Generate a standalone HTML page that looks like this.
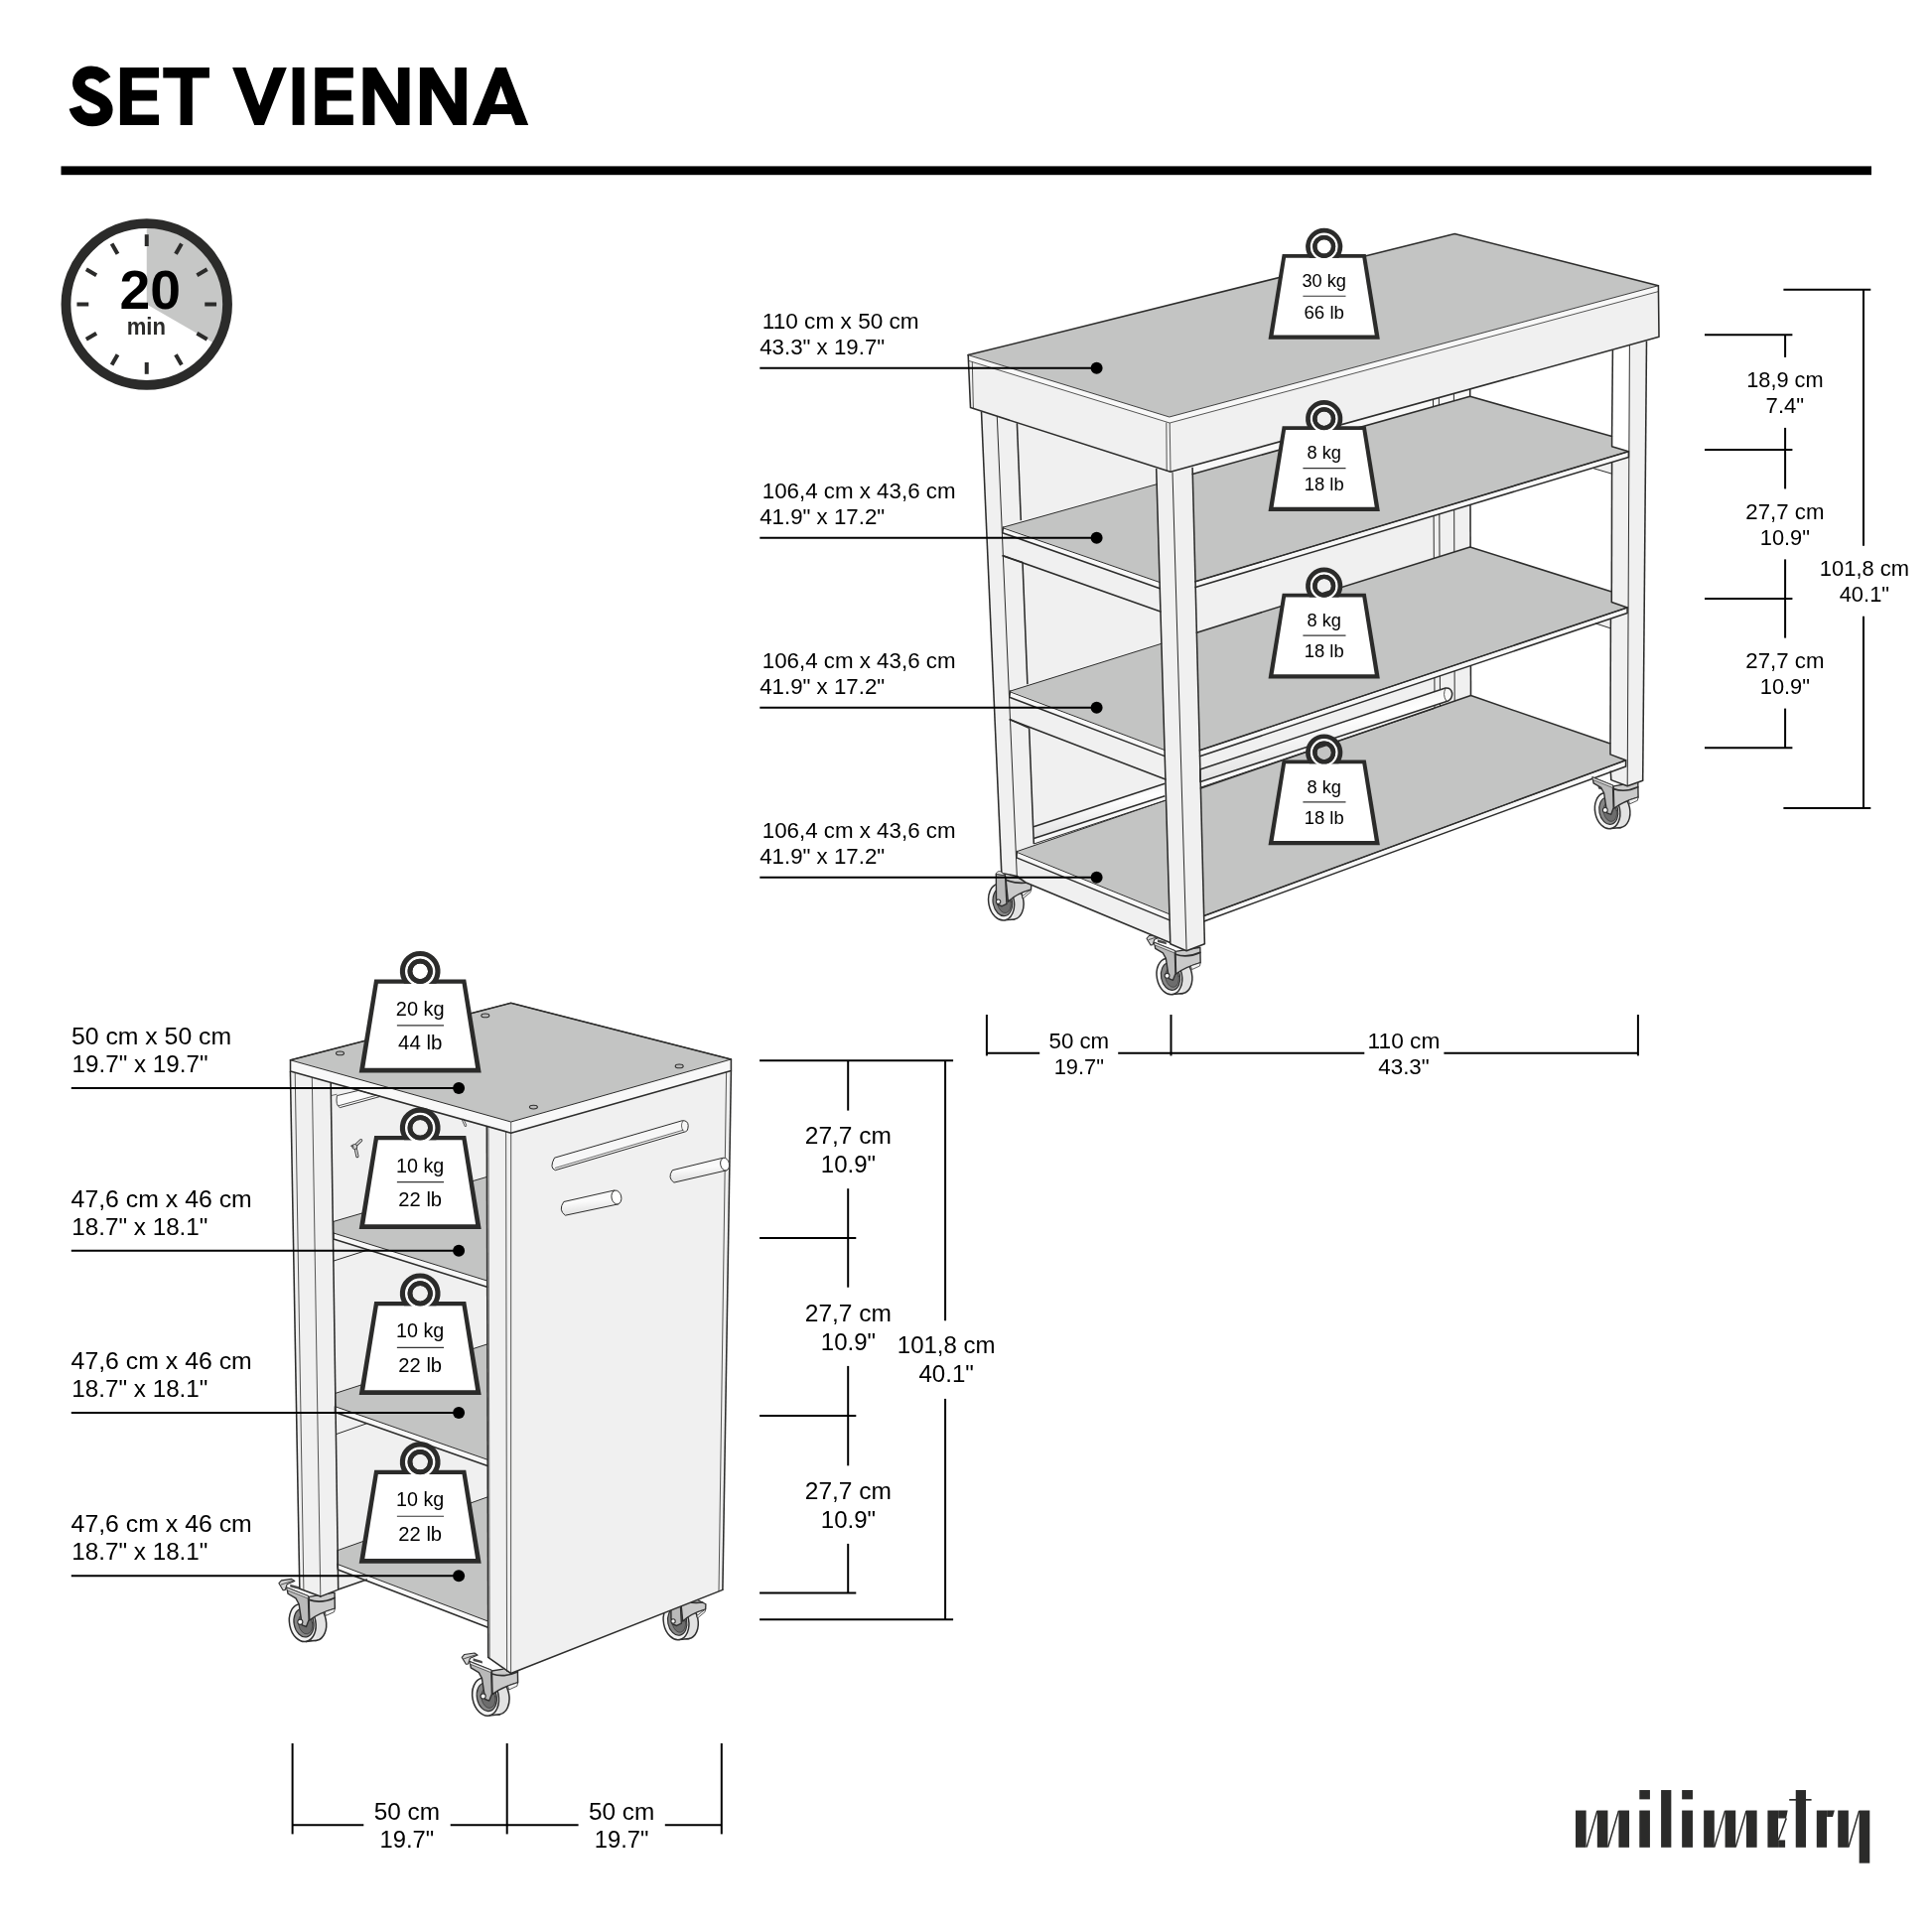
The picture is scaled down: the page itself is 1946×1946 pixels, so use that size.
<!DOCTYPE html>
<html><head><meta charset="utf-8"><title>SET VIENNA</title>
<style>html,body{margin:0;padding:0;background:#fff}svg{display:block;transform:translateZ(0);will-change:transform}</style></head><body>
<svg width="1946" height="1946" viewBox="0 0 1946 1946">
<rect width="1946" height="1946" fill="#ffffff"/>
<g id="title"><path d="M106.0,80.6 C102.5,74.6 97.5,72.9 92.0,72.9 C84.0,72.9 79.3,77.8 79.3,83.8 C79.3,90.0 84.5,93.2 92.5,96.6 C101.5,100.4 107.3,103.6 107.3,110.6 C107.3,117.0 101.5,120.9 93.0,120.9 C84.5,120.9 78.2,116.5 75.6,108.0" fill="none" stroke="#000" stroke-width="12.6"/>
<polygon points="120.9,67.9 160.0,67.9 160.0,78.4 132.9,78.4 132.9,90.8 158.1,90.8 158.1,101.6 132.9,101.6 132.9,115.4 160.0,115.4 160.0,125.9 120.9,125.9" fill="#000"/>
<polygon points="164.3,67.9 210.9,67.9 210.9,78.4 193.8,78.4 193.8,125.9 181.6,125.9 181.6,78.4 164.3,78.4" fill="#000"/>
<polygon points="234.1,67.9 247.4,67.9 261.3,106.6 275.5,67.9 288.8,67.9 266.0,125.9 256.2,125.9" fill="#000"/>
<polygon points="294.6,67.9 306.5,67.9 306.5,125.9 294.6,125.9" fill="#000"/>
<polygon points="317.3,67.9 355.8,67.9 355.8,78.4 329.3,78.4 329.3,90.8 353.9,90.8 353.9,101.6 329.3,101.6 329.3,115.4 355.8,115.4 355.8,125.9 317.3,125.9" fill="#000"/>
<polygon points="365.5,67.9 379.0,67.9 400.9,104.7 400.9,67.9 412.5,67.9 412.5,125.9 399.1,125.9 377.4,89.2 377.4,125.9 365.5,125.9" fill="#000"/>
<polygon points="422.9,67.9 436.4,67.9 458.3,104.7 458.3,67.9 469.9,67.9 469.9,125.9 456.5,125.9 434.8,89.2 434.8,125.9 422.9,125.9" fill="#000"/>
<path fill="#000" fill-rule="evenodd" d="M475.9,125.9 L499.1,67.9 L509.9,67.9 L532.2,125.9 L519.0,125.9 L514.9,115.0 L494.4,115.0 L490.0,125.9 Z M498.4,105.0 L511.2,105.0 L504.6,86.6 Z"/>
<rect x="61.5" y="167.4" width="1823.5" height="8.8" fill="#000"/></g>
<g id="clock"><path d="M147.75,306.5 L147.75,229.5 A77,77 0 0 1 214.43,345.00 Z" fill="#c6c7c6"/>
<circle cx="147.75" cy="306.5" r="81.3" fill="none" stroke="#2b2b2a" stroke-width="9.8"/>
<line x1="147.75" y1="248.00" x2="147.75" y2="236.20" stroke="#2b2b2a" stroke-width="4"/>
<line x1="177.00" y1="255.84" x2="182.90" y2="245.62" stroke="#2b2b2a" stroke-width="4"/>
<line x1="198.41" y1="277.25" x2="208.63" y2="271.35" stroke="#2b2b2a" stroke-width="4"/>
<line x1="206.25" y1="306.50" x2="218.05" y2="306.50" stroke="#2b2b2a" stroke-width="4"/>
<line x1="198.41" y1="335.75" x2="208.63" y2="341.65" stroke="#2b2b2a" stroke-width="4"/>
<line x1="177.00" y1="357.16" x2="182.90" y2="367.38" stroke="#2b2b2a" stroke-width="4"/>
<line x1="147.75" y1="365.00" x2="147.75" y2="376.80" stroke="#2b2b2a" stroke-width="4"/>
<line x1="118.50" y1="357.16" x2="112.60" y2="367.38" stroke="#2b2b2a" stroke-width="4"/>
<line x1="97.09" y1="335.75" x2="86.87" y2="341.65" stroke="#2b2b2a" stroke-width="4"/>
<line x1="89.25" y1="306.50" x2="77.45" y2="306.50" stroke="#2b2b2a" stroke-width="4"/>
<line x1="97.09" y1="277.25" x2="86.87" y2="271.35" stroke="#2b2b2a" stroke-width="4"/>
<line x1="118.50" y1="255.84" x2="112.60" y2="245.62" stroke="#2b2b2a" stroke-width="4"/>
<text x="151.3" y="311.2" font-family="Liberation Sans, sans-serif" font-size="56" font-weight="bold" text-anchor="middle" fill="#000" textLength="61.5" lengthAdjust="spacingAndGlyphs" >20</text>
<text x="147.3" y="336.7" font-family="Liberation Sans, sans-serif" font-size="23.5" font-weight="bold" text-anchor="middle" fill="#2b2b2a" textLength="39.3" lengthAdjust="spacingAndGlyphs" >min</text></g>
<g id="tcasters"><g transform="translate(1013.2,907.4) scale(0.99)" stroke-linejoin="round" stroke-linecap="round">
<g transform="rotate(-11)">
<ellipse cx="5.0" cy="1.6" rx="12.6" ry="18.4" fill="#e2e2e2" stroke="#2f2f2f" stroke-width="1.5"/>
<rect x="-4.8" y="-18.2" width="9.8" height="38.0" fill="#ececec"/>
<line x1="-4.8" y1="19.1" x2="5.0" y2="20.0" stroke="#2f2f2f" stroke-width="1.5"/>
<ellipse cx="-4.8" cy="0.3" rx="12.9" ry="18.8" fill="#f3f3f3" stroke="#2f2f2f" stroke-width="1.5"/>
<ellipse cx="-3.5999999999999996" cy="0.6" rx="9.7" ry="14.2" fill="#868686" stroke="#2f2f2f" stroke-width="1.2"/>
<ellipse cx="-2.1999999999999997" cy="1.8" rx="6.8" ry="10.2" fill="#6d6d6d" stroke="#2f2f2f" stroke-width="0.6"/>
</g>
<path d="M-0.3,-24.0 L12.5,-23.6 L25.8,-16.8 L25.6,-11.6 Q10,-7 2.2,0.8 Z" fill="#cacaca" stroke="#2f2f2f" stroke-width="1.4"/>
<path d="M0.0,-21.3 Q10,-17.0 22.5,-18.6" fill="none" stroke="#2f2f2f" stroke-width="1.7"/>
<polygon points="16.7,-4.9 25.6,-11.6 25.0,-8.8 17.6,-2.6" fill="#f2f2f2" stroke="#2f2f2f" stroke-width="0.8"/>
</g><g transform="translate(1624.2,815.4) scale(0.97)" stroke-linejoin="round" stroke-linecap="round">
<polygon points="-15.5,-25.5 -11.5,-24.5 -11.0,-20.5 -14.5,-21.5" fill="#4a4a4a"/>
<g transform="rotate(-11)">
<ellipse cx="5.2" cy="1.6" rx="12.6" ry="18.4" fill="#e2e2e2" stroke="#2f2f2f" stroke-width="1.5"/>
<rect x="-5.4" y="-18.2" width="10.600000000000001" height="38.0" fill="#ececec"/>
<line x1="-5.4" y1="19.1" x2="5.2" y2="20.0" stroke="#2f2f2f" stroke-width="1.5"/>
<ellipse cx="-5.4" cy="0.3" rx="12.9" ry="18.8" fill="#f3f3f3" stroke="#2f2f2f" stroke-width="1.5"/>
<ellipse cx="-4.2" cy="0.6" rx="9.7" ry="14.2" fill="#868686" stroke="#2f2f2f" stroke-width="1.2"/>
<ellipse cx="-2.8000000000000003" cy="1.8" rx="6.8" ry="10.2" fill="#6d6d6d" stroke="#2f2f2f" stroke-width="0.6"/>
</g>
<path d="M1.0,-24.3 L26.4,-28.5 L26.7,-12.8 Q10,-8 1.6,-1.2 Z" fill="#cacaca" stroke="#2f2f2f" stroke-width="1.4"/>
<path d="M1.1,-21.4 Q13,-17.3 26.4,-23.3" fill="none" stroke="#2f2f2f" stroke-width="1.7"/>
<polygon points="17.1,-9.6 26.7,-12.8 26.0,-9.4 18.3,-5.9" fill="#f2f2f2" stroke="#2f2f2f" stroke-width="0.8"/>
</g><g transform="translate(1183.0,982.2) scale(0.98)" stroke-linejoin="round" stroke-linecap="round">
<polygon points="-17.5,-36.8 -8.6,-34.2 -8.2,-31.6 -17.5,-34.0" fill="#4a4a4a"/>
<polygon points="-28.6,-37.7 -26.1,-40.5 -16.1,-42.0 -13.0,-39.9 -20.5,-36.8 -22.4,-31.2 -24.5,-30.9" fill="#d2d2d2" stroke="#2f2f2f" stroke-width="1.1"/>
<path d="M-26.3,-36.4 L-14.2,-40.4" fill="none" stroke="#2f2f2f" stroke-width="0.8"/>
<g transform="rotate(-11)">
<ellipse cx="5.2" cy="1.6" rx="12.6" ry="18.4" fill="#e2e2e2" stroke="#2f2f2f" stroke-width="1.5"/>
<rect x="-5.4" y="-18.2" width="10.600000000000001" height="38.0" fill="#ececec"/>
<line x1="-5.4" y1="19.1" x2="5.2" y2="20.0" stroke="#2f2f2f" stroke-width="1.5"/>
<ellipse cx="-5.4" cy="0.3" rx="12.9" ry="18.8" fill="#f3f3f3" stroke="#2f2f2f" stroke-width="1.5"/>
<ellipse cx="-4.2" cy="0.6" rx="9.7" ry="14.2" fill="#868686" stroke="#2f2f2f" stroke-width="1.2"/>
<ellipse cx="-2.8000000000000003" cy="1.8" rx="6.8" ry="10.2" fill="#6d6d6d" stroke="#2f2f2f" stroke-width="0.6"/>
</g>
<path d="M1.0,-24.3 L26.4,-28.5 L26.7,-12.8 Q10,-8 1.6,-1.2 Z" fill="#cacaca" stroke="#2f2f2f" stroke-width="1.4"/>
<path d="M1.1,-21.4 Q13,-17.3 26.4,-23.3" fill="none" stroke="#2f2f2f" stroke-width="1.7"/>
<polygon points="17.1,-9.6 26.7,-12.8 26.0,-9.4 18.3,-5.9" fill="#f2f2f2" stroke="#2f2f2f" stroke-width="0.8"/>
</g></g>
<g id="table"><polygon points="988.5,414.8 988.0,414.0 1164.7,470.7 1164.7,472.1 1178.8,950.8 1178.0,949.3 1032.8,888.7 1024.3,882.5 1008.8,879.4" fill="#f0f0f0" />
<polygon points="988.0,414.0 1165.0,470.8 1165.0,600.0 1008.0,600.0" fill="#f0f0f0" />
<polygon points="1201.1,470.7 1480.7,391.9 1481.5,700.6 1209.7,793.9" fill="#f0f0f0" />
<polygon points="1201.1,470.7 1480.7,391.9 1480.7,399.3 1201.3,477.6" fill="#f8f8f8" />
<polygon points="1164.7,472.1 1181.0,475.6 1201.1,470.7 1213.4,950.8 1195.1,957.8 1178.8,950.8" fill="#f0f0f0" />
<polygon points="988.5,414.8 1004.3,419.8 1024.4,426.3 1041.3,850.0 1024.3,882.5 1008.8,879.4" fill="#f0f0f0" />
<polygon points="1641.4,347.8 1658.5,343.4 1654.7,786.3 1639.2,791.8" fill="#f0f0f0" />
<polygon points="1624.0,466.0 1640.8,461.0 1639.2,791.8 1622.8,785.6" fill="#f0f0f0" />
<polygon points="1605.0,471.7 1623.6,466.0 1623.6,477.2" fill="#f0f0f0" />
<polygon points="1607.3,628.0 1622.4,623.6 1622.4,632.9" fill="#f0f0f0" />
<polygon points="1010.5,531.1 1165.2,487.7 1168.1,586.5" fill="#c3c4c3" />
<polygon points="1201.3,477.6 1480.7,399.3 1623.6,439.6 1623.6,449.7 1640.4,454.7 1204.0,585.8" fill="#c3c4c3" />
<polygon points="1017.5,696.1 1169.9,648.3 1173.0,755.5" fill="#c3c4c3" />
<polygon points="1205.4,637.2 1480.7,550.9 1623.3,596.0 1623.3,606.5 1639.1,612.0 1208.4,755.8" fill="#c3c4c3" />
<polygon points="1024.3,857.6 1174.5,806.0 1177.9,920.8" fill="#c3c4c3" />
<polygon points="1209.4,794.0 1481.5,700.6 1622.0,749.1 1622.0,759.9 1637.6,765.8 1212.7,922.5" fill="#c3c4c3" />
<polygon points="1010.5,531.9 1168.1,586.5 1168.3,592.7 1009.7,536.7" fill="#f8f8f8" />
<polygon points="1204.0,585.8 1640.4,454.7 1640.4,460.6 1204.2,591.5" fill="#f8f8f8" />
<polygon points="1017.5,696.9 1173.0,755.5 1173.2,761.6 1016.7,702.3" fill="#f8f8f8" />
<polygon points="1208.4,755.8 1639.1,612.0 1639.1,617.6 1208.6,761.8" fill="#f8f8f8" />
<polygon points="1024.3,858.4 1177.9,920.8 1178.1,926.9 1023.9,863.9" fill="#f8f8f8" />
<polygon points="1212.7,922.5 1637.6,765.8 1637.6,772.0 1212.8,928.0" fill="#f8f8f8" />
<polygon points="1624.4,352.8 1641.4,347.8 1640.9,454.7 1623.6,449.7" fill="#ffffff" />
<defs><linearGradient id="barg" x1="0" y1="0" x2="0.3" y2="1"><stop offset="0" stop-color="#e4e4e4"/><stop offset="0.45" stop-color="#ffffff"/><stop offset="1" stop-color="#dcdcdc"/></linearGradient></defs>
<polygon points="1041.3,832.8 1173.3,789.3 1173.3,801.7 1041.3,844.4" fill="url(#barg)" />
<polygon points="1041.3,844.4 1173.3,801.7 1173.3,806.4 1041.6,849.9" fill="#f8f8f8" />
<polygon points="1209.0,787.5 1443.8,710.3 1444.6,713.6 1209.7,793.1" fill="#f8f8f8" />
<polygon points="975.2,357.6 1465.2,235.5 1670.4,287.7 1177.8,420.0" fill="#c3c4c3" />
<polygon points="975.2,357.6 1177.8,420.0 1670.4,287.7 1670.4,293.6 1178.2,426.0 975.7,363.4" fill="#f8f8f8" />
<polygon points="975.7,363.4 1178.2,426.0 1670.4,293.6 1671.0,339.3 1179.0,475.3 977.5,410.6" fill="#f0f0f0" />
<line x1="1443.5" y1="402.2" x2="1443.5" y2="409.7" stroke="#2d2d2c" stroke-width="1.0" stroke-linecap="butt"/>
<line x1="1449.4" y1="400.6" x2="1449.4" y2="408.1" stroke="#2d2d2c" stroke-width="1.0" stroke-linecap="butt"/>
<line x1="1464.4" y1="396.4" x2="1464.4" y2="403.9" stroke="#2d2d2c" stroke-width="1.0" stroke-linecap="butt"/>
<line x1="1480.7" y1="391.9" x2="1480.7" y2="399.3" stroke="#2d2d2c" stroke-width="1.55" stroke-linecap="butt"/>
<line x1="1444.1" y1="519.5" x2="1444.3" y2="562.4" stroke="#2d2d2c" stroke-width="1.0" stroke-linecap="butt"/>
<line x1="1449.8" y1="517.8" x2="1450.0" y2="560.6" stroke="#2d2d2c" stroke-width="1.0" stroke-linecap="butt"/>
<line x1="1464.7" y1="513.3" x2="1464.8" y2="555.9" stroke="#2d2d2c" stroke-width="1.0" stroke-linecap="butt"/>
<line x1="1481.0" y1="508.4" x2="1481.1" y2="550.9" stroke="#2d2d2c" stroke-width="1.55" stroke-linecap="butt"/>
<line x1="1444.9" y1="682.6" x2="1445.0" y2="713.2" stroke="#2d2d2c" stroke-width="1.0" stroke-linecap="butt"/>
<line x1="1450.4" y1="680.8" x2="1450.5" y2="711.3" stroke="#2d2d2c" stroke-width="1.0" stroke-linecap="butt"/>
<line x1="1465.1" y1="675.9" x2="1465.2" y2="706.2" stroke="#2d2d2c" stroke-width="1.0" stroke-linecap="butt"/>
<line x1="1481.4" y1="670.4" x2="1481.5" y2="700.6" stroke="#2d2d2c" stroke-width="1.55" stroke-linecap="butt"/>
<path d="M1208.8,775.1 L1456.0,693.1 Q1461.5,692.6 1462.6,698.0 Q1463.0,703.5 1458.6,706.0 L1209.0,787.5 Z" fill="url(#barg)" stroke="#2d2d2c" stroke-width="1.55" stroke-linejoin="round"/>
<path d="M1456.2,693.2 q-3.6,6.2 0.6,12.9" fill="none" stroke="#2d2d2c" stroke-width="0.8"/>
<polyline points="1168.1,586.5 1010.5,531.9 1010.5,531.1 1165.2,487.7" fill="none" stroke="#2d2d2c" stroke-width="1.0" stroke-linejoin="round" stroke-linecap="round" />
<polyline points="1010.5,531.1 1009.7,536.7 1168.3,592.7" fill="none" stroke="#2d2d2c" stroke-width="1.55" stroke-linejoin="round" stroke-linecap="round" />
<polyline points="1201.3,477.6 1480.7,399.3 1623.6,439.6 1623.6,449.7 1640.4,454.7 1204.0,585.8" fill="none" stroke="#2d2d2c" stroke-width="1.55" stroke-linejoin="round" stroke-linecap="round" />
<polyline points="1640.4,454.7 1640.4,460.6 1204.2,591.5" fill="none" stroke="#2d2d2c" stroke-width="1.55" stroke-linejoin="round" stroke-linecap="round" />
<polyline points="1204.0,585.8 1640.4,454.7" fill="none" stroke="#2d2d2c" stroke-width="1.0" stroke-linejoin="round" stroke-linecap="round" />
<polyline points="1173.0,755.5 1017.5,696.9 1017.5,696.1 1169.9,648.3" fill="none" stroke="#2d2d2c" stroke-width="1.0" stroke-linejoin="round" stroke-linecap="round" />
<polyline points="1017.5,696.1 1016.7,702.3 1173.2,761.6" fill="none" stroke="#2d2d2c" stroke-width="1.55" stroke-linejoin="round" stroke-linecap="round" />
<polyline points="1205.4,637.2 1480.7,550.9 1623.3,596.0 1623.3,606.5 1639.1,612.0 1208.4,755.8" fill="none" stroke="#2d2d2c" stroke-width="1.55" stroke-linejoin="round" stroke-linecap="round" />
<polyline points="1639.1,612.0 1639.1,617.6 1208.6,761.8" fill="none" stroke="#2d2d2c" stroke-width="1.55" stroke-linejoin="round" stroke-linecap="round" />
<polyline points="1208.4,755.8 1639.1,612.0" fill="none" stroke="#2d2d2c" stroke-width="1.0" stroke-linejoin="round" stroke-linecap="round" />
<polyline points="1177.9,920.8 1024.3,858.4 1024.3,857.6 1174.5,806.0" fill="none" stroke="#2d2d2c" stroke-width="1.0" stroke-linejoin="round" stroke-linecap="round" />
<polyline points="1024.3,857.6 1023.9,863.9 1178.1,926.9" fill="none" stroke="#2d2d2c" stroke-width="1.55" stroke-linejoin="round" stroke-linecap="round" />
<polyline points="1209.4,794.0 1481.5,700.6 1622.0,749.1 1622.0,759.9 1637.6,765.8 1212.7,922.5" fill="none" stroke="#2d2d2c" stroke-width="1.55" stroke-linejoin="round" stroke-linecap="round" />
<polyline points="1637.6,765.8 1637.6,772.0 1212.8,928.0" fill="none" stroke="#2d2d2c" stroke-width="1.55" stroke-linejoin="round" stroke-linecap="round" />
<polyline points="1212.7,922.5 1637.6,765.8" fill="none" stroke="#2d2d2c" stroke-width="1.0" stroke-linejoin="round" stroke-linecap="round" />
<polyline points="1010.0,559.8 1168.9,616.0" fill="none" stroke="#2d2d2c" stroke-width="1.55" stroke-linejoin="round" stroke-linecap="round" />
<polyline points="1017.1,724.8 1173.9,785.0" fill="none" stroke="#2d2d2c" stroke-width="1.55" stroke-linejoin="round" stroke-linecap="round" />
<polyline points="1024.3,882.5 1032.8,888.7 1178.0,949.3" fill="none" stroke="#2d2d2c" stroke-width="1.55" stroke-linejoin="round" stroke-linecap="round" />
<line x1="1024.4" y1="426.3" x2="1028.3" y2="524.1" stroke="#2d2d2c" stroke-width="1.55" stroke-linecap="butt"/>
<line x1="1030.0" y1="566.5" x2="1034.9" y2="689.1" stroke="#2d2d2c" stroke-width="1.55" stroke-linecap="butt"/>
<line x1="1036.6" y1="733.4" x2="1041.3" y2="850.0" stroke="#2d2d2c" stroke-width="1.55" stroke-linecap="butt"/>
<line x1="1010.4" y1="559.8" x2="1030.0" y2="566.5" stroke="#2d2d2c" stroke-width="1.55" stroke-linecap="butt"/>
<line x1="1017.5" y1="724.8" x2="1036.6" y2="733.4" stroke="#2d2d2c" stroke-width="1.55" stroke-linecap="butt"/>
<line x1="1041.1" y1="832.8" x2="1173.3" y2="789.3" stroke="#2d2d2c" stroke-width="1.55" stroke-linecap="butt"/>
<line x1="1041.3" y1="844.4" x2="1173.3" y2="801.7" stroke="#2d2d2c" stroke-width="1.55" stroke-linecap="butt"/>
<line x1="1041.6" y1="849.9" x2="1173.3" y2="806.4" stroke="#2d2d2c" stroke-width="1.0" stroke-linecap="butt"/>
<line x1="1209.3" y1="793.1" x2="1444.6" y2="713.6" stroke="#2d2d2c" stroke-width="1.0" stroke-linecap="butt"/>
<line x1="988.5" y1="414.8" x2="1008.8" y2="879.4" stroke="#2d2d2c" stroke-width="1.55" stroke-linecap="butt"/>
<line x1="1004.3" y1="419.8" x2="1024.3" y2="882.5" stroke="#2d2d2c" stroke-width="1.0" stroke-linecap="butt"/>
<line x1="1164.7" y1="472.1" x2="1178.8" y2="950.8" stroke="#2d2d2c" stroke-width="1.55" stroke-linecap="butt"/>
<line x1="1181.0" y1="475.6" x2="1195.1" y2="957.8" stroke="#2d2d2c" stroke-width="1.0" stroke-linecap="butt"/>
<line x1="1201.1" y1="470.7" x2="1213.4" y2="950.8" stroke="#2d2d2c" stroke-width="1.55" stroke-linecap="butt"/>
<line x1="1641.4" y1="347.8" x2="1639.2" y2="791.8" stroke="#2d2d2c" stroke-width="1.0" stroke-linecap="butt"/>
<line x1="1658.5" y1="343.4" x2="1654.7" y2="786.3" stroke="#2d2d2c" stroke-width="1.55" stroke-linecap="butt"/>
<polyline points="1008.8,879.4 1024.3,882.5" fill="none" stroke="#2d2d2c" stroke-width="1.55" stroke-linejoin="round" stroke-linecap="round" />
<polyline points="1178.8,950.8 1195.1,957.8 1213.4,950.8" fill="none" stroke="#2d2d2c" stroke-width="1.55" stroke-linejoin="round" stroke-linecap="round" />
<polyline points="1622.8,785.6 1639.2,791.8 1654.7,786.3" fill="none" stroke="#2d2d2c" stroke-width="1.55" stroke-linejoin="round" stroke-linecap="round" />
<line x1="1624.4" y1="352.8" x2="1623.6" y2="439.6" stroke="#2d2d2c" stroke-width="1.55" stroke-linecap="butt"/>
<line x1="1623.6" y1="466.0" x2="1623.3" y2="596.0" stroke="#2d2d2c" stroke-width="1.55" stroke-linecap="butt"/>
<line x1="1622.4" y1="623.6" x2="1622.0" y2="749.1" stroke="#2d2d2c" stroke-width="1.55" stroke-linecap="butt"/>
<line x1="1622.3" y1="776.5" x2="1622.8" y2="785.6" stroke="#2d2d2c" stroke-width="1.55" stroke-linecap="butt"/>
<polyline points="1605.0,471.7 1623.6,477.2" fill="none" stroke="#2d2d2c" stroke-width="1.0" stroke-linejoin="round" stroke-linecap="round" />
<polyline points="1607.3,628.0 1622.4,632.9" fill="none" stroke="#2d2d2c" stroke-width="1.0" stroke-linejoin="round" stroke-linecap="round" />
<polyline points="975.2,357.6 1465.2,235.5 1670.4,287.7" fill="none" stroke="#2d2d2c" stroke-width="1.55" stroke-linejoin="round" stroke-linecap="round" />
<polyline points="975.2,357.6 1177.8,420.0 1670.4,287.7" fill="none" stroke="#2d2d2c" stroke-width="0.9" stroke-linejoin="round" stroke-linecap="round" />
<polyline points="975.7,363.4 1178.2,426.0 1670.4,293.6" fill="none" stroke="#2d2d2c" stroke-width="0.8" stroke-linejoin="round" stroke-linecap="round" />
<polyline points="975.2,357.6 977.5,410.6 1179.0,475.3 1671.0,339.3 1670.4,287.7" fill="none" stroke="#2d2d2c" stroke-width="1.55" stroke-linejoin="round" stroke-linecap="round" />
<line x1="1174.8" y1="425.6" x2="1175.2" y2="474.2" stroke="#2d2d2c" stroke-width="0.8" stroke-linecap="butt"/>
<line x1="1178.2" y1="426.0" x2="1179.0" y2="475.3" stroke="#2d2d2c" stroke-width="0.8" stroke-linecap="butt"/>
<line x1="979.3" y1="364.6" x2="980.4" y2="411.9" stroke="#2d2d2c" stroke-width="0.8" stroke-linecap="butt"/></g>
<g id="tforks"><g transform="translate(1013.2,907.4) scale(0.99)" stroke-linejoin="round" stroke-linecap="round">
<polygon points="-10.0,-27.5 -0.7,-26.1 0.75,3.1 -4.0,5.4 -8.6,3.7 -9.8,-2.5" fill="#b9b9b9" stroke="#2f2f2f" stroke-width="1.4"/>
<path d="M-10.0,-27.5 Q-9.5,-30.6 -5.5,-30.0 L-0.7,-26.1 Z" fill="#e6e6e6" stroke="#2f2f2f" stroke-width="0.8"/>
<circle cx="-7.7" cy="0.8" r="2.2" fill="#ffffff" stroke="#2f2f2f" stroke-width="1.1"/>
</g><g transform="translate(1624.2,815.4) scale(0.97)" stroke-linejoin="round" stroke-linecap="round">
<polygon points="-20.7,-33.4 0.3,-25.1 1.0,-1.6 -1.6,5.2 -5.7,3.6 -8.8,-17.1 -11.9,-22.8 -19.7,-27.4" fill="#b9b9b9" stroke="#2f2f2f" stroke-width="1.4"/>
<polygon points="-20.7,-33.4 0.3,-25.1 0.4,-22.6 -20.3,-30.9" fill="#e6e6e6" stroke="#2f2f2f" stroke-width="0.7"/>
<circle cx="-7.6" cy="0.6" r="2.5" fill="#ffffff" stroke="#2f2f2f" stroke-width="1.1"/>
</g><g transform="translate(1183.0,982.2) scale(0.98)" stroke-linejoin="round" stroke-linecap="round">
<polygon points="-20.7,-33.4 0.3,-25.1 1.0,-1.6 -1.6,5.2 -5.7,3.6 -8.8,-17.1 -11.9,-22.8 -19.7,-27.4" fill="#b9b9b9" stroke="#2f2f2f" stroke-width="1.4"/>
<polygon points="-20.7,-33.4 0.3,-25.1 0.4,-22.6 -20.3,-30.9" fill="#e6e6e6" stroke="#2f2f2f" stroke-width="0.7"/>
<circle cx="-7.6" cy="0.6" r="2.5" fill="#ffffff" stroke="#2f2f2f" stroke-width="1.1"/>
</g></g>
<g id="tann"><text x="767.8" y="330.9" font-family="Liberation Sans, sans-serif" font-size="22.3" font-weight="normal" text-anchor="start" fill="#000" textLength="157.9" lengthAdjust="spacingAndGlyphs" >110 cm x 50 cm</text>
<text x="765.2" y="356.7" font-family="Liberation Sans, sans-serif" font-size="22.3" font-weight="normal" text-anchor="start" fill="#000" textLength="126.0" lengthAdjust="spacingAndGlyphs" >43.3&quot; x 19.7&quot;</text>
<line x1="765.3" y1="370.8" x2="1104.6" y2="370.8" stroke="#000" stroke-width="2" stroke-linecap="butt"/>
<circle cx="1104.6" cy="370.8" r="6" fill="#000"/>
<text x="767.8" y="501.9" font-family="Liberation Sans, sans-serif" font-size="22.3" font-weight="normal" text-anchor="start" fill="#000" textLength="194.7" lengthAdjust="spacingAndGlyphs" >106,4 cm x 43,6 cm</text>
<text x="765.2" y="527.7" font-family="Liberation Sans, sans-serif" font-size="22.3" font-weight="normal" text-anchor="start" fill="#000" textLength="126.0" lengthAdjust="spacingAndGlyphs" >41.9&quot; x 17.2&quot;</text>
<line x1="765.3" y1="541.8" x2="1104.6" y2="541.8" stroke="#000" stroke-width="2" stroke-linecap="butt"/>
<circle cx="1104.6" cy="541.8" r="6" fill="#000"/>
<text x="767.8" y="672.9" font-family="Liberation Sans, sans-serif" font-size="22.3" font-weight="normal" text-anchor="start" fill="#000" textLength="194.7" lengthAdjust="spacingAndGlyphs" >106,4 cm x 43,6 cm</text>
<text x="765.2" y="698.7" font-family="Liberation Sans, sans-serif" font-size="22.3" font-weight="normal" text-anchor="start" fill="#000" textLength="126.0" lengthAdjust="spacingAndGlyphs" >41.9&quot; x 17.2&quot;</text>
<line x1="765.3" y1="712.8" x2="1104.6" y2="712.8" stroke="#000" stroke-width="2" stroke-linecap="butt"/>
<circle cx="1104.6" cy="712.8" r="6" fill="#000"/>
<text x="767.8" y="843.9" font-family="Liberation Sans, sans-serif" font-size="22.3" font-weight="normal" text-anchor="start" fill="#000" textLength="194.7" lengthAdjust="spacingAndGlyphs" >106,4 cm x 43,6 cm</text>
<text x="765.2" y="869.7" font-family="Liberation Sans, sans-serif" font-size="22.3" font-weight="normal" text-anchor="start" fill="#000" textLength="126.0" lengthAdjust="spacingAndGlyphs" >41.9&quot; x 17.2&quot;</text>
<line x1="765.3" y1="883.8" x2="1104.6" y2="883.8" stroke="#000" stroke-width="2" stroke-linecap="butt"/>
<circle cx="1104.6" cy="883.8" r="6" fill="#000"/>
<line x1="1877.0" y1="291.7" x2="1877.0" y2="549.8" stroke="#000" stroke-width="2" stroke-linecap="butt"/>
<line x1="1877.0" y1="620.8" x2="1877.0" y2="813.6" stroke="#000" stroke-width="2" stroke-linecap="butt"/>
<line x1="1796.4" y1="291.7" x2="1884.3" y2="291.7" stroke="#000" stroke-width="2" stroke-linecap="butt"/>
<line x1="1796.4" y1="814.0" x2="1884.3" y2="814.0" stroke="#000" stroke-width="2" stroke-linecap="butt"/>
<line x1="1798.1" y1="337.3" x2="1798.1" y2="359.9" stroke="#000" stroke-width="2" stroke-linecap="butt"/>
<line x1="1798.1" y1="430.9" x2="1798.1" y2="492.4" stroke="#000" stroke-width="2" stroke-linecap="butt"/>
<line x1="1798.1" y1="563.4" x2="1798.1" y2="642.6" stroke="#000" stroke-width="2" stroke-linecap="butt"/>
<line x1="1798.1" y1="713.6" x2="1798.1" y2="753.3" stroke="#000" stroke-width="2" stroke-linecap="butt"/>
<line x1="1717.0" y1="337.3" x2="1805.4" y2="337.3" stroke="#000" stroke-width="2" stroke-linecap="butt"/>
<line x1="1717.0" y1="452.9" x2="1805.4" y2="452.9" stroke="#000" stroke-width="2" stroke-linecap="butt"/>
<line x1="1717.0" y1="603.1" x2="1805.4" y2="603.1" stroke="#000" stroke-width="2" stroke-linecap="butt"/>
<line x1="1717.0" y1="753.3" x2="1805.4" y2="753.3" stroke="#000" stroke-width="2" stroke-linecap="butt"/>
<text x="1797.9" y="389.7" font-family="Liberation Sans, sans-serif" font-size="22.3" font-weight="normal" text-anchor="middle" fill="#000" textLength="77.4" lengthAdjust="spacingAndGlyphs" >18,9 cm</text>
<text x="1797.9" y="416.4" font-family="Liberation Sans, sans-serif" font-size="22.3" font-weight="normal" text-anchor="middle" fill="#000" textLength="38.6" lengthAdjust="spacingAndGlyphs" >7.4&quot;</text>
<text x="1797.9" y="522.8" font-family="Liberation Sans, sans-serif" font-size="22.3" font-weight="normal" text-anchor="middle" fill="#000" textLength="79.2" lengthAdjust="spacingAndGlyphs" >27,7 cm</text>
<text x="1797.9" y="549.2" font-family="Liberation Sans, sans-serif" font-size="22.3" font-weight="normal" text-anchor="middle" fill="#000" textLength="50.2" lengthAdjust="spacingAndGlyphs" >10.9&quot;</text>
<text x="1797.9" y="673.0" font-family="Liberation Sans, sans-serif" font-size="22.3" font-weight="normal" text-anchor="middle" fill="#000" textLength="79.2" lengthAdjust="spacingAndGlyphs" >27,7 cm</text>
<text x="1797.9" y="699.1" font-family="Liberation Sans, sans-serif" font-size="22.3" font-weight="normal" text-anchor="middle" fill="#000" textLength="50.2" lengthAdjust="spacingAndGlyphs" >10.9&quot;</text>
<text x="1877.9" y="580.2" font-family="Liberation Sans, sans-serif" font-size="22.3" font-weight="normal" text-anchor="middle" fill="#000" textLength="90.2" lengthAdjust="spacingAndGlyphs" >101,8 cm</text>
<text x="1877.9" y="606.3" font-family="Liberation Sans, sans-serif" font-size="22.3" font-weight="normal" text-anchor="middle" fill="#000" textLength="50.4" lengthAdjust="spacingAndGlyphs" >40.1&quot;</text>
<line x1="993.9" y1="1022.0" x2="993.9" y2="1063.4" stroke="#000" stroke-width="2" stroke-linecap="butt"/>
<line x1="1179.5" y1="1022.0" x2="1179.5" y2="1063.4" stroke="#000" stroke-width="2" stroke-linecap="butt"/>
<line x1="1649.9" y1="1022.0" x2="1649.9" y2="1063.4" stroke="#000" stroke-width="2" stroke-linecap="butt"/>
<line x1="993.9" y1="1060.8" x2="1047.2" y2="1060.8" stroke="#000" stroke-width="2" stroke-linecap="butt"/>
<line x1="1126.2" y1="1060.8" x2="1374.3" y2="1060.8" stroke="#000" stroke-width="2" stroke-linecap="butt"/>
<line x1="1454.4" y1="1060.8" x2="1649.9" y2="1060.8" stroke="#000" stroke-width="2" stroke-linecap="butt"/>
<text x="1086.8" y="1056.3" font-family="Liberation Sans, sans-serif" font-size="22.3" font-weight="normal" text-anchor="middle" fill="#000" textLength="60.6" lengthAdjust="spacingAndGlyphs" >50 cm</text>
<text x="1086.8" y="1081.6" font-family="Liberation Sans, sans-serif" font-size="22.3" font-weight="normal" text-anchor="middle" fill="#000" textLength="50.3" lengthAdjust="spacingAndGlyphs" >19.7&quot;</text>
<text x="1414.0" y="1056.3" font-family="Liberation Sans, sans-serif" font-size="22.3" font-weight="normal" text-anchor="middle" fill="#000" textLength="72.8" lengthAdjust="spacingAndGlyphs" >110 cm</text>
<text x="1414.0" y="1081.6" font-family="Liberation Sans, sans-serif" font-size="22.3" font-weight="normal" text-anchor="middle" fill="#000" textLength="51.5" lengthAdjust="spacingAndGlyphs" >43.3&quot;</text>
<g transform="translate(1333.7,248.4) scale(1)">
<polygon points="-42.05,7.5 42.05,7.5 56.15,93.3 -56.15,93.3" fill="#2b2b2a"/>
<polygon points="-38.65,11.3 38.65,11.3 51.05,89.0 -51.05,89.0" fill="#ffffff"/>
<path fill-rule="evenodd" d="M-14.77,11.3 A18.6,18.6 0 1 1 14.77,11.3 Z M-7.2,0 a7.2,7.2 0 1 0 14.4,0 a7.2,7.2 0 1 0 -14.4,0 Z" fill="#2b2b2a"/>
<path fill="#ffffff" fill-rule="evenodd" d="M-13.9,0 a13.9,13.9 0 1 0 27.8,0 a13.9,13.9 0 1 0 -27.8,0 Z M-11.5,0 a11.5,11.5 0 1 0 23,0 a11.5,11.5 0 1 0 -23,0 Z"/>
<circle cx="0" cy="0" r="9.35" fill="none" stroke="#2b2b2a" stroke-width="4.3"/>
<text x="0.0" y="40.8" font-family="Liberation Sans, sans-serif" font-size="18.3" font-weight="normal" text-anchor="middle" fill="#000" textLength="44.6" lengthAdjust="spacingAndGlyphs" >30 kg</text>
<line x1="-21.3" y1="49.9" x2="21.8" y2="49.9" stroke="#333" stroke-width="1.1"/>
<text x="0.0" y="72.2" font-family="Liberation Sans, sans-serif" font-size="18.3" font-weight="normal" text-anchor="middle" fill="#000" textLength="40.6" lengthAdjust="spacingAndGlyphs" >66 lb</text>
</g>
<g transform="translate(1333.7,421.7) scale(1)">
<polygon points="-42.05,7.5 42.05,7.5 56.15,93.3 -56.15,93.3" fill="#2b2b2a"/>
<polygon points="-38.65,11.3 38.65,11.3 51.05,89.0 -51.05,89.0" fill="#ffffff"/>
<path fill-rule="evenodd" d="M-14.77,11.3 A18.6,18.6 0 1 1 14.77,11.3 Z M-7.2,0 a7.2,7.2 0 1 0 14.4,0 a7.2,7.2 0 1 0 -14.4,0 Z" fill="#2b2b2a"/>
<path fill="#ffffff" fill-rule="evenodd" d="M-13.9,0 a13.9,13.9 0 1 0 27.8,0 a13.9,13.9 0 1 0 -27.8,0 Z M-11.5,0 a11.5,11.5 0 1 0 23,0 a11.5,11.5 0 1 0 -23,0 Z"/>
<circle cx="0" cy="0" r="9.35" fill="none" stroke="#2b2b2a" stroke-width="4.3"/>
<text x="0.0" y="40.8" font-family="Liberation Sans, sans-serif" font-size="18.3" font-weight="normal" text-anchor="middle" fill="#000" textLength="34.5" lengthAdjust="spacingAndGlyphs" >8 kg</text>
<line x1="-21.3" y1="49.9" x2="21.8" y2="49.9" stroke="#333" stroke-width="1.1"/>
<text x="0.0" y="72.2" font-family="Liberation Sans, sans-serif" font-size="18.3" font-weight="normal" text-anchor="middle" fill="#000" textLength="40.0" lengthAdjust="spacingAndGlyphs" >18 lb</text>
</g>
<g transform="translate(1333.7,590.2) scale(1)">
<polygon points="-42.05,7.5 42.05,7.5 56.15,93.3 -56.15,93.3" fill="#2b2b2a"/>
<polygon points="-38.65,11.3 38.65,11.3 51.05,89.0 -51.05,89.0" fill="#ffffff"/>
<path fill-rule="evenodd" d="M-14.77,11.3 A18.6,18.6 0 1 1 14.77,11.3 Z M-7.2,0 a7.2,7.2 0 1 0 14.4,0 a7.2,7.2 0 1 0 -14.4,0 Z" fill="#2b2b2a"/>
<path fill="#ffffff" fill-rule="evenodd" d="M-13.9,0 a13.9,13.9 0 1 0 27.8,0 a13.9,13.9 0 1 0 -27.8,0 Z M-11.5,0 a11.5,11.5 0 1 0 23,0 a11.5,11.5 0 1 0 -23,0 Z"/>
<circle cx="0" cy="0" r="9.35" fill="none" stroke="#2b2b2a" stroke-width="4.3"/>
<text x="0.0" y="40.8" font-family="Liberation Sans, sans-serif" font-size="18.3" font-weight="normal" text-anchor="middle" fill="#000" textLength="34.5" lengthAdjust="spacingAndGlyphs" >8 kg</text>
<line x1="-21.3" y1="49.9" x2="21.8" y2="49.9" stroke="#333" stroke-width="1.1"/>
<text x="0.0" y="72.2" font-family="Liberation Sans, sans-serif" font-size="18.3" font-weight="normal" text-anchor="middle" fill="#000" textLength="40.0" lengthAdjust="spacingAndGlyphs" >18 lb</text>
</g>
<g transform="translate(1333.7,758.0) scale(1)">
<polygon points="-42.05,7.5 42.05,7.5 56.15,93.3 -56.15,93.3" fill="#2b2b2a"/>
<polygon points="-38.65,11.3 38.65,11.3 51.05,89.0 -51.05,89.0" fill="#ffffff"/>
<path fill-rule="evenodd" d="M-14.77,11.3 A18.6,18.6 0 1 1 14.77,11.3 Z M-7.2,0 a7.2,7.2 0 1 0 14.4,0 a7.2,7.2 0 1 0 -14.4,0 Z" fill="#2b2b2a"/>
<path fill="#ffffff" fill-rule="evenodd" d="M-13.9,0 a13.9,13.9 0 1 0 27.8,0 a13.9,13.9 0 1 0 -27.8,0 Z M-11.5,0 a11.5,11.5 0 1 0 23,0 a11.5,11.5 0 1 0 -23,0 Z"/>
<circle cx="0" cy="0" r="9.35" fill="none" stroke="#2b2b2a" stroke-width="4.3"/>
<text x="0.0" y="40.8" font-family="Liberation Sans, sans-serif" font-size="18.3" font-weight="normal" text-anchor="middle" fill="#000" textLength="34.5" lengthAdjust="spacingAndGlyphs" >8 kg</text>
<line x1="-21.3" y1="49.9" x2="21.8" y2="49.9" stroke="#333" stroke-width="1.1"/>
<text x="0.0" y="72.2" font-family="Liberation Sans, sans-serif" font-size="18.3" font-weight="normal" text-anchor="middle" fill="#000" textLength="40.0" lengthAdjust="spacingAndGlyphs" >18 lb</text>
</g></g>
<g id="cabinet"><g transform="translate(685.6,1632.2) scale(0.98)" stroke-linejoin="round" stroke-linecap="round">
<g transform="rotate(-11)">
<ellipse cx="5.0" cy="1.6" rx="12.6" ry="18.4" fill="#e2e2e2" stroke="#2f2f2f" stroke-width="1.5"/>
<rect x="-4.8" y="-18.2" width="9.8" height="38.0" fill="#ececec"/>
<line x1="-4.8" y1="19.1" x2="5.0" y2="20.0" stroke="#2f2f2f" stroke-width="1.5"/>
<ellipse cx="-4.8" cy="0.3" rx="12.9" ry="18.8" fill="#f3f3f3" stroke="#2f2f2f" stroke-width="1.5"/>
<ellipse cx="-3.5999999999999996" cy="0.6" rx="9.7" ry="14.2" fill="#868686" stroke="#2f2f2f" stroke-width="1.2"/>
<ellipse cx="-2.1999999999999997" cy="1.8" rx="6.8" ry="10.2" fill="#6d6d6d" stroke="#2f2f2f" stroke-width="0.6"/>
</g>
<path d="M-0.3,-24.0 L12.5,-23.6 L25.8,-16.8 L25.6,-11.6 Q10,-7 2.2,0.8 Z" fill="#cacaca" stroke="#2f2f2f" stroke-width="1.4"/>
<path d="M0.0,-21.3 Q10,-17.0 22.5,-18.6" fill="none" stroke="#2f2f2f" stroke-width="1.7"/>
<polygon points="16.7,-4.9 25.6,-11.6 25.0,-8.8 17.6,-2.6" fill="#f2f2f2" stroke="#2f2f2f" stroke-width="0.8"/>
<polygon points="-10.0,-27.5 -0.7,-26.1 0.75,3.1 -4.0,5.4 -8.6,3.7 -9.8,-2.5" fill="#b9b9b9" stroke="#2f2f2f" stroke-width="1.4"/>
<path d="M-10.0,-27.5 Q-9.5,-30.6 -5.5,-30.0 L-0.7,-26.1 Z" fill="#e6e6e6" stroke="#2f2f2f" stroke-width="0.8"/>
<circle cx="-7.7" cy="0.8" r="2.2" fill="#ffffff" stroke="#2f2f2f" stroke-width="1.1"/>
</g>
<g transform="translate(310.1,1633.2) scale(1.02)" stroke-linejoin="round" stroke-linecap="round">
<polygon points="-17.5,-36.8 -8.6,-34.2 -8.2,-31.6 -17.5,-34.0" fill="#4a4a4a"/>
<polygon points="-28.6,-37.7 -26.1,-40.5 -16.1,-42.0 -13.0,-39.9 -20.5,-36.8 -22.4,-31.2 -24.5,-30.9" fill="#d2d2d2" stroke="#2f2f2f" stroke-width="1.1"/>
<path d="M-26.3,-36.4 L-14.2,-40.4" fill="none" stroke="#2f2f2f" stroke-width="0.8"/>
<g transform="rotate(-11)">
<ellipse cx="5.2" cy="1.6" rx="12.6" ry="18.4" fill="#e2e2e2" stroke="#2f2f2f" stroke-width="1.5"/>
<rect x="-5.4" y="-18.2" width="10.600000000000001" height="38.0" fill="#ececec"/>
<line x1="-5.4" y1="19.1" x2="5.2" y2="20.0" stroke="#2f2f2f" stroke-width="1.5"/>
<ellipse cx="-5.4" cy="0.3" rx="12.9" ry="18.8" fill="#f3f3f3" stroke="#2f2f2f" stroke-width="1.5"/>
<ellipse cx="-4.2" cy="0.6" rx="9.7" ry="14.2" fill="#868686" stroke="#2f2f2f" stroke-width="1.2"/>
<ellipse cx="-2.8000000000000003" cy="1.8" rx="6.8" ry="10.2" fill="#6d6d6d" stroke="#2f2f2f" stroke-width="0.6"/>
</g>
<path d="M1.0,-24.3 L26.4,-28.5 L26.7,-12.8 Q10,-8 1.6,-1.2 Z" fill="#cacaca" stroke="#2f2f2f" stroke-width="1.4"/>
<path d="M1.1,-21.4 Q13,-17.3 26.4,-23.3" fill="none" stroke="#2f2f2f" stroke-width="1.7"/>
<polygon points="17.1,-9.6 26.7,-12.8 26.0,-9.4 18.3,-5.9" fill="#f2f2f2" stroke="#2f2f2f" stroke-width="0.8"/>
</g>
<g transform="translate(494.4,1707.8) scale(1.02)" stroke-linejoin="round" stroke-linecap="round">
<polygon points="-17.5,-36.8 -8.6,-34.2 -8.2,-31.6 -17.5,-34.0" fill="#4a4a4a"/>
<polygon points="-28.6,-37.7 -26.1,-40.5 -16.1,-42.0 -13.0,-39.9 -20.5,-36.8 -22.4,-31.2 -24.5,-30.9" fill="#d2d2d2" stroke="#2f2f2f" stroke-width="1.1"/>
<path d="M-26.3,-36.4 L-14.2,-40.4" fill="none" stroke="#2f2f2f" stroke-width="0.8"/>
<g transform="rotate(-11)">
<ellipse cx="5.2" cy="1.6" rx="12.6" ry="18.4" fill="#e2e2e2" stroke="#2f2f2f" stroke-width="1.5"/>
<rect x="-5.4" y="-18.2" width="10.600000000000001" height="38.0" fill="#ececec"/>
<line x1="-5.4" y1="19.1" x2="5.2" y2="20.0" stroke="#2f2f2f" stroke-width="1.5"/>
<ellipse cx="-5.4" cy="0.3" rx="12.9" ry="18.8" fill="#f3f3f3" stroke="#2f2f2f" stroke-width="1.5"/>
<ellipse cx="-4.2" cy="0.6" rx="9.7" ry="14.2" fill="#868686" stroke="#2f2f2f" stroke-width="1.2"/>
<ellipse cx="-2.8000000000000003" cy="1.8" rx="6.8" ry="10.2" fill="#6d6d6d" stroke="#2f2f2f" stroke-width="0.6"/>
</g>
<path d="M1.0,-24.3 L26.4,-28.5 L26.7,-12.8 Q10,-8 1.6,-1.2 Z" fill="#cacaca" stroke="#2f2f2f" stroke-width="1.4"/>
<path d="M1.1,-21.4 Q13,-17.3 26.4,-23.3" fill="none" stroke="#2f2f2f" stroke-width="1.7"/>
<polygon points="17.1,-9.6 26.7,-12.8 26.0,-9.4 18.3,-5.9" fill="#f2f2f2" stroke="#2f2f2f" stroke-width="0.8"/>
</g>
<polygon points="333.2,1090.4 490.3,1134.4 491.3,1633.0 339.9,1575.5 340.7,1601.1" fill="#f0f0f0" />
<polygon points="340.7,1580.9 369.4,1591.0 340.7,1601.1" fill="#f0f0f0" />
<polygon points="292.4,1079.0 333.2,1090.4 340.7,1601.1 322.8,1608.1 301.8,1600.3" fill="#f0f0f0" />
<polygon points="490.3,1134.4 514.7,1141.2 736.4,1078.6 727.9,1601.4 514.6,1685.5 510.6,1684.0 491.7,1669.4" fill="#f0f0f0" />
<polygon points="335.9,1230.4 490.6,1185.4 490.6,1290.0 335.9,1242.0" fill="#c3c4c3" />
<polygon points="335.9,1242.0 490.6,1290.0 490.6,1296.2 335.9,1248.0" fill="#f8f8f8" />
<polygon points="337.5,1403.5 490.9,1353.9 491.2,1470.3 337.5,1416.7" fill="#c3c4c3" />
<polygon points="337.5,1416.7 491.2,1470.3 491.2,1476.5 337.5,1422.4" fill="#f8f8f8" />
<polygon points="339.9,1561.7 491.3,1507.8 491.5,1633.0 339.9,1575.5" fill="#c3c4c3" />
<polygon points="339.9,1575.5 491.5,1633.0 491.5,1639.2 340.3,1581.0" fill="#f8f8f8" />
<polygon points="292.5,1067.8 514.6,1010.3 736.4,1067.0 514.7,1130.0" fill="#c3c4c3" />
<polygon points="292.5,1067.8 514.7,1130.0 736.4,1067.0 736.4,1078.6 514.7,1141.2 292.5,1079.0" fill="#f8f8f8" />
<ellipse cx="342.5" cy="1060.9" rx="4.0" ry="1.9" fill="#b9b9b9" stroke="#2d2d2c" stroke-width="1.1"/>
<ellipse cx="488.8" cy="1022.9" rx="4.0" ry="1.9" fill="#b9b9b9" stroke="#2d2d2c" stroke-width="1.1"/>
<ellipse cx="684.2" cy="1073.9" rx="4.0" ry="1.9" fill="#b9b9b9" stroke="#2d2d2c" stroke-width="1.1"/>
<ellipse cx="537.4" cy="1115.1" rx="4.0" ry="1.9" fill="#b9b9b9" stroke="#2d2d2c" stroke-width="1.1"/>
<path d="M339.4,1103.6 L361.5,1098.3 L383.2,1104.4 L342.4,1115.6 Q337.8,1113.5 339.4,1103.6 Z" fill="#fbfbfb" stroke="#2d2d2c" stroke-width="0.9" stroke-linejoin="round"/>
<line x1="340.9" y1="1113.8" x2="378.6" y2="1103.4" stroke="#2d2d2c" stroke-width="0.8" stroke-linecap="butt"/>
<line x1="333.4" y1="1103.6" x2="339.4" y2="1102.2" stroke="#2d2d2c" stroke-width="0.7" stroke-linecap="butt"/>
<path d="M357.6,1154.3 L363.6,1148.6 M357.9,1155.4 L359.9,1164.6" fill="none" stroke="#333" stroke-width="3.2" stroke-linecap="round"/>
<path d="M357.6,1154.3 L363.6,1148.6 M357.9,1155.4 L359.9,1164.6" fill="none" stroke="#d8d8d8" stroke-width="1.5" stroke-linecap="round"/>
<circle cx="357.3" cy="1155.0" r="2.5" fill="#cfcfcf" stroke="#333" stroke-width="0.9"/>
<path d="M352.6,1154.2 l3,-1.6 l1,3.6 z" fill="#555"/>
<path d="M466.4,1128.2 L468.9,1133.6" fill="none" stroke="#444" stroke-width="2.6" stroke-linecap="round"/>
<path d="M466.4,1128.2 L468.9,1133.6" fill="none" stroke="#dcdcdc" stroke-width="1.2" stroke-linecap="round"/>
<polyline points="335.9,1230.4 490.6,1185.4" fill="none" stroke="#2d2d2c" stroke-width="1.0" stroke-linejoin="round" stroke-linecap="round" />
<polyline points="335.9,1230.4 335.9,1242.0 490.6,1290.0" fill="none" stroke="#2d2d2c" stroke-width="1.0" stroke-linejoin="round" stroke-linecap="round" />
<polyline points="335.9,1242.0 335.9,1248.0 490.6,1296.2" fill="none" stroke="#2d2d2c" stroke-width="1.55" stroke-linejoin="round" stroke-linecap="round" />
<polyline points="337.5,1403.5 490.9,1353.9" fill="none" stroke="#2d2d2c" stroke-width="1.0" stroke-linejoin="round" stroke-linecap="round" />
<polyline points="337.5,1403.5 337.5,1416.7 491.2,1470.3" fill="none" stroke="#2d2d2c" stroke-width="1.0" stroke-linejoin="round" stroke-linecap="round" />
<polyline points="337.5,1416.7 337.5,1422.4 491.2,1476.5" fill="none" stroke="#2d2d2c" stroke-width="1.55" stroke-linejoin="round" stroke-linecap="round" />
<polyline points="339.9,1561.7 491.3,1507.8" fill="none" stroke="#2d2d2c" stroke-width="1.0" stroke-linejoin="round" stroke-linecap="round" />
<polyline points="339.9,1561.7 339.9,1575.5 491.5,1633.0" fill="none" stroke="#2d2d2c" stroke-width="1.0" stroke-linejoin="round" stroke-linecap="round" />
<polyline points="339.9,1575.5 340.3,1581.0 491.5,1639.2" fill="none" stroke="#2d2d2c" stroke-width="1.55" stroke-linejoin="round" stroke-linecap="round" />
<line x1="335.9" y1="1270.1" x2="371.5" y2="1258.7" stroke="#2d2d2c" stroke-width="1.0" stroke-linecap="butt"/>
<line x1="338.3" y1="1444.7" x2="369.4" y2="1433.8" stroke="#2d2d2c" stroke-width="1.0" stroke-linecap="butt"/>
<polyline points="322.8,1608.1 340.7,1601.1 369.4,1591.0" fill="none" stroke="#2d2d2c" stroke-width="1.55" stroke-linejoin="round" stroke-linecap="round" />
<line x1="292.4" y1="1079.0" x2="301.8" y2="1600.3" stroke="#2d2d2c" stroke-width="1.55" stroke-linecap="butt"/>
<line x1="297.2" y1="1080.3" x2="305.9" y2="1601.8" stroke="#2d2d2c" stroke-width="0.8" stroke-linecap="butt"/>
<line x1="314.3" y1="1085.1" x2="322.8" y2="1608.1" stroke="#2d2d2c" stroke-width="0.8" stroke-linecap="butt"/>
<line x1="333.2" y1="1090.4" x2="340.7" y2="1601.1" stroke="#2d2d2c" stroke-width="1.55" stroke-linecap="butt"/>
<polyline points="301.8,1600.3 322.8,1608.1" fill="none" stroke="#2d2d2c" stroke-width="1.55" stroke-linejoin="round" stroke-linecap="round" />
<line x1="490.3" y1="1134.4" x2="491.7" y2="1669.4" stroke="#2d2d2c" stroke-width="1.55" stroke-linecap="butt"/>
<line x1="491.9" y1="1135.0" x2="493.2" y2="1669.8" stroke="#2d2d2c" stroke-width="0.7" stroke-linecap="butt"/>
<line x1="509.6" y1="1139.8" x2="510.6" y2="1684.0" stroke="#2d2d2c" stroke-width="0.8" stroke-linecap="butt"/>
<line x1="514.7" y1="1141.2" x2="514.6" y2="1685.5" stroke="#2d2d2c" stroke-width="0.8" stroke-linecap="butt"/>
<polyline points="491.7,1669.4 514.6,1685.5 727.9,1601.4" fill="none" stroke="#2d2d2c" stroke-width="1.55" stroke-linejoin="round" stroke-linecap="round" />
<line x1="736.4" y1="1078.6" x2="727.9" y2="1601.4" stroke="#2d2d2c" stroke-width="1.55" stroke-linecap="butt"/>
<line x1="731.6" y1="1080.0" x2="724.0" y2="1602.9" stroke="#2d2d2c" stroke-width="0.8" stroke-linecap="butt"/>
<polygon points="292.5,1067.8 514.6,1010.3 736.4,1067.0 514.7,1130.0" fill="none" stroke="#2d2d2c" stroke-width="1.0" stroke-linejoin="round" />
<polyline points="292.5,1067.8 292.5,1079.0 514.7,1141.2 736.4,1078.6 736.4,1067.0" fill="none" stroke="#2d2d2c" stroke-width="1.55" stroke-linejoin="round" stroke-linecap="round" />
<line x1="514.7" y1="1130.0" x2="514.7" y2="1141.2" stroke="#2d2d2c" stroke-width="0.8" stroke-linecap="butt"/>
<polyline points="292.5,1067.8 514.6,1010.3 736.4,1067.0" fill="none" stroke="#2d2d2c" stroke-width="1.55" stroke-linejoin="round" stroke-linecap="round" />
<defs><linearGradient id="pegg" x1="0" y1="0" x2="0.25" y2="1"><stop offset="0" stop-color="#f2f2f2"/><stop offset="0.5" stop-color="#fbfbfb"/><stop offset="1" stop-color="#dedede"/></linearGradient></defs>
<path d="M558.5,1166.2 L687.4,1128.7 Q692.8,1128.5 693.2,1133.5 Q693.0,1139.5 690.5,1139.8 L559.3,1178.7 Q553.0,1176.5 558.5,1166.2 Z" fill="#f7f7f7" stroke="#2d2d2c" stroke-width="1"/>
<line x1="559.0" y1="1176.5" x2="688.3" y2="1138.2" stroke="#2d2d2c" stroke-width="0.7" stroke-linecap="butt"/>
<path d="M688.0,1128.8 q-3.2,5 0.3,10.6" fill="none" stroke="#2d2d2c" stroke-width="0.7"/>
<path d="M677.3,1178.7 L728.5,1166.2 L732.4,1178.7 L678.9,1191.1 Q672.0,1186.4 677.3,1178.7 Z" fill="url(#pegg)" stroke="#2d2d2c" stroke-width="1"/>
<ellipse cx="730.1" cy="1172.6" rx="4.4" ry="6.4" transform="rotate(-12 730.1 1172.6)" fill="#ffffff" stroke="#2d2d2c" stroke-width="0.9"/>
<path d="M567.8,1210.5 L619.1,1198.9 L623.0,1212.8 L569.4,1224.2 Q562.0,1219.0 567.8,1210.5 Z" fill="url(#pegg)" stroke="#2d2d2c" stroke-width="1"/>
<ellipse cx="620.9" cy="1206.0" rx="4.9" ry="7.0" transform="rotate(-12 620.9 1206.0)" fill="#ffffff" stroke="#2d2d2c" stroke-width="0.9"/>
<g transform="translate(310.1,1633.2) scale(1.02)" stroke-linejoin="round" stroke-linecap="round">
<polygon points="-20.7,-33.4 0.3,-25.1 1.0,-1.6 -1.6,5.2 -5.7,3.6 -8.8,-17.1 -11.9,-22.8 -19.7,-27.4" fill="#b9b9b9" stroke="#2f2f2f" stroke-width="1.4"/>
<polygon points="-20.7,-33.4 0.3,-25.1 0.4,-22.6 -20.3,-30.9" fill="#e6e6e6" stroke="#2f2f2f" stroke-width="0.7"/>
<circle cx="-7.6" cy="0.6" r="2.5" fill="#ffffff" stroke="#2f2f2f" stroke-width="1.1"/>
</g>
<g transform="translate(494.4,1707.8) scale(1.02)" stroke-linejoin="round" stroke-linecap="round">
<polygon points="-20.7,-33.4 0.3,-25.1 1.0,-1.6 -1.6,5.2 -5.7,3.6 -8.8,-17.1 -11.9,-22.8 -19.7,-27.4" fill="#b9b9b9" stroke="#2f2f2f" stroke-width="1.4"/>
<polygon points="-20.7,-33.4 0.3,-25.1 0.4,-22.6 -20.3,-30.9" fill="#e6e6e6" stroke="#2f2f2f" stroke-width="0.7"/>
<circle cx="-7.6" cy="0.6" r="2.5" fill="#ffffff" stroke="#2f2f2f" stroke-width="1.1"/>
</g></g>
<g id="cann"><text x="72.0" y="1051.9" font-family="Liberation Sans, sans-serif" font-size="24.6" font-weight="normal" text-anchor="start" fill="#000" textLength="161.1" lengthAdjust="spacingAndGlyphs" >50 cm x 50 cm</text>
<text x="72.6" y="1080.2" font-family="Liberation Sans, sans-serif" font-size="24.6" font-weight="normal" text-anchor="start" fill="#000" textLength="136.9" lengthAdjust="spacingAndGlyphs" >19.7&quot; x 19.7&quot;</text>
<line x1="71.8" y1="1096.1" x2="462.1" y2="1096.1" stroke="#000" stroke-width="2" stroke-linecap="butt"/>
<circle cx="462.1" cy="1096.1" r="6" fill="#000"/>
<text x="71.6" y="1215.5" font-family="Liberation Sans, sans-serif" font-size="24.6" font-weight="normal" text-anchor="start" fill="#000" textLength="182.2" lengthAdjust="spacingAndGlyphs" >47,6 cm x 46 cm</text>
<text x="72.2" y="1243.8" font-family="Liberation Sans, sans-serif" font-size="24.6" font-weight="normal" text-anchor="start" fill="#000" textLength="137.3" lengthAdjust="spacingAndGlyphs" >18.7&quot; x 18.1&quot;</text>
<line x1="71.8" y1="1259.8" x2="462.1" y2="1259.8" stroke="#000" stroke-width="2" stroke-linecap="butt"/>
<circle cx="462.1" cy="1259.8" r="6" fill="#000"/>
<text x="71.6" y="1378.8" font-family="Liberation Sans, sans-serif" font-size="24.6" font-weight="normal" text-anchor="start" fill="#000" textLength="182.2" lengthAdjust="spacingAndGlyphs" >47,6 cm x 46 cm</text>
<text x="72.2" y="1407.1" font-family="Liberation Sans, sans-serif" font-size="24.6" font-weight="normal" text-anchor="start" fill="#000" textLength="137.3" lengthAdjust="spacingAndGlyphs" >18.7&quot; x 18.1&quot;</text>
<line x1="71.8" y1="1423.1" x2="462.1" y2="1423.1" stroke="#000" stroke-width="2" stroke-linecap="butt"/>
<circle cx="462.1" cy="1423.1" r="6" fill="#000"/>
<text x="71.6" y="1543.0" font-family="Liberation Sans, sans-serif" font-size="24.6" font-weight="normal" text-anchor="start" fill="#000" textLength="182.2" lengthAdjust="spacingAndGlyphs" >47,6 cm x 46 cm</text>
<text x="72.2" y="1571.3" font-family="Liberation Sans, sans-serif" font-size="24.6" font-weight="normal" text-anchor="start" fill="#000" textLength="137.3" lengthAdjust="spacingAndGlyphs" >18.7&quot; x 18.1&quot;</text>
<line x1="71.8" y1="1587.3" x2="462.1" y2="1587.3" stroke="#000" stroke-width="2" stroke-linecap="butt"/>
<circle cx="462.1" cy="1587.3" r="6" fill="#000"/>
<line x1="765.1" y1="1068.2" x2="960.1" y2="1068.2" stroke="#000" stroke-width="2" stroke-linecap="butt"/>
<line x1="765.1" y1="1631.2" x2="960.1" y2="1631.2" stroke="#000" stroke-width="2" stroke-linecap="butt"/>
<line x1="952.1" y1="1068.2" x2="952.1" y2="1330.3" stroke="#000" stroke-width="2" stroke-linecap="butt"/>
<line x1="952.1" y1="1408.9" x2="952.1" y2="1631.2" stroke="#000" stroke-width="2" stroke-linecap="butt"/>
<line x1="854.2" y1="1068.2" x2="854.2" y2="1118.6" stroke="#000" stroke-width="2" stroke-linecap="butt"/>
<line x1="854.2" y1="1197.2" x2="854.2" y2="1296.7" stroke="#000" stroke-width="2" stroke-linecap="butt"/>
<line x1="854.2" y1="1375.9" x2="854.2" y2="1476.3" stroke="#000" stroke-width="2" stroke-linecap="butt"/>
<line x1="854.2" y1="1554.9" x2="854.2" y2="1604.6" stroke="#000" stroke-width="2" stroke-linecap="butt"/>
<line x1="765.1" y1="1246.9" x2="862.3" y2="1246.9" stroke="#000" stroke-width="2" stroke-linecap="butt"/>
<line x1="765.1" y1="1425.9" x2="862.3" y2="1425.9" stroke="#000" stroke-width="2" stroke-linecap="butt"/>
<line x1="765.1" y1="1604.6" x2="862.3" y2="1604.6" stroke="#000" stroke-width="2" stroke-linecap="butt"/>
<text x="854.4" y="1152.3" font-family="Liberation Sans, sans-serif" font-size="24.6" font-weight="normal" text-anchor="middle" fill="#000" textLength="87.3" lengthAdjust="spacingAndGlyphs" >27,7 cm</text>
<text x="854.4" y="1181.2" font-family="Liberation Sans, sans-serif" font-size="24.6" font-weight="normal" text-anchor="middle" fill="#000" textLength="55.2" lengthAdjust="spacingAndGlyphs" >10.9&quot;</text>
<text x="854.4" y="1331.0" font-family="Liberation Sans, sans-serif" font-size="24.6" font-weight="normal" text-anchor="middle" fill="#000" textLength="87.3" lengthAdjust="spacingAndGlyphs" >27,7 cm</text>
<text x="854.4" y="1359.9" font-family="Liberation Sans, sans-serif" font-size="24.6" font-weight="normal" text-anchor="middle" fill="#000" textLength="55.2" lengthAdjust="spacingAndGlyphs" >10.9&quot;</text>
<text x="854.4" y="1510.0" font-family="Liberation Sans, sans-serif" font-size="24.6" font-weight="normal" text-anchor="middle" fill="#000" textLength="87.3" lengthAdjust="spacingAndGlyphs" >27,7 cm</text>
<text x="854.4" y="1538.9" font-family="Liberation Sans, sans-serif" font-size="24.6" font-weight="normal" text-anchor="middle" fill="#000" textLength="55.2" lengthAdjust="spacingAndGlyphs" >10.9&quot;</text>
<text x="953.2" y="1363.4" font-family="Liberation Sans, sans-serif" font-size="24.6" font-weight="normal" text-anchor="middle" fill="#000" textLength="98.8" lengthAdjust="spacingAndGlyphs" >101,8 cm</text>
<text x="953.2" y="1392.3" font-family="Liberation Sans, sans-serif" font-size="24.6" font-weight="normal" text-anchor="middle" fill="#000" textLength="55.5" lengthAdjust="spacingAndGlyphs" >40.1&quot;</text>
<line x1="294.6" y1="1756.0" x2="294.6" y2="1847.4" stroke="#000" stroke-width="2" stroke-linecap="butt"/>
<line x1="510.7" y1="1756.0" x2="510.7" y2="1847.4" stroke="#000" stroke-width="2" stroke-linecap="butt"/>
<line x1="726.8" y1="1756.0" x2="726.8" y2="1847.4" stroke="#000" stroke-width="2" stroke-linecap="butt"/>
<line x1="294.6" y1="1838.3" x2="366.3" y2="1838.3" stroke="#000" stroke-width="2" stroke-linecap="butt"/>
<line x1="453.7" y1="1838.3" x2="582.6" y2="1838.3" stroke="#000" stroke-width="2" stroke-linecap="butt"/>
<line x1="669.8" y1="1838.3" x2="726.8" y2="1838.3" stroke="#000" stroke-width="2" stroke-linecap="butt"/>
<text x="409.9" y="1833.2" font-family="Liberation Sans, sans-serif" font-size="24.6" font-weight="normal" text-anchor="middle" fill="#000" textLength="66.3" lengthAdjust="spacingAndGlyphs" >50 cm</text>
<text x="409.9" y="1861.1" font-family="Liberation Sans, sans-serif" font-size="24.6" font-weight="normal" text-anchor="middle" fill="#000" textLength="54.6" lengthAdjust="spacingAndGlyphs" >19.7&quot;</text>
<text x="626.1" y="1833.2" font-family="Liberation Sans, sans-serif" font-size="24.6" font-weight="normal" text-anchor="middle" fill="#000" textLength="66.3" lengthAdjust="spacingAndGlyphs" >50 cm</text>
<text x="626.1" y="1861.1" font-family="Liberation Sans, sans-serif" font-size="24.6" font-weight="normal" text-anchor="middle" fill="#000" textLength="54.6" lengthAdjust="spacingAndGlyphs" >19.7&quot;</text>
<g transform="translate(423.2,978.3) scale(1.095)">
<polygon points="-42.05,7.5 42.05,7.5 56.15,93.3 -56.15,93.3" fill="#2b2b2a"/>
<polygon points="-38.65,11.3 38.65,11.3 51.05,89.0 -51.05,89.0" fill="#ffffff"/>
<path fill-rule="evenodd" d="M-14.77,11.3 A18.6,18.6 0 1 1 14.77,11.3 Z M-7.2,0 a7.2,7.2 0 1 0 14.4,0 a7.2,7.2 0 1 0 -14.4,0 Z" fill="#2b2b2a"/>
<path fill="#ffffff" fill-rule="evenodd" d="M-13.9,0 a13.9,13.9 0 1 0 27.8,0 a13.9,13.9 0 1 0 -27.8,0 Z M-11.5,0 a11.5,11.5 0 1 0 23,0 a11.5,11.5 0 1 0 -23,0 Z"/>
<circle cx="0" cy="0" r="9.35" fill="none" stroke="#2b2b2a" stroke-width="4.3"/>
<text x="0.0" y="40.8" font-family="Liberation Sans, sans-serif" font-size="18.3" font-weight="normal" text-anchor="middle" fill="#000" textLength="44.6" lengthAdjust="spacingAndGlyphs" >20 kg</text>
<line x1="-21.3" y1="49.9" x2="21.8" y2="49.9" stroke="#333" stroke-width="1.1"/>
<text x="0.0" y="72.2" font-family="Liberation Sans, sans-serif" font-size="18.3" font-weight="normal" text-anchor="middle" fill="#000" textLength="40.6" lengthAdjust="spacingAndGlyphs" >44 lb</text>
</g>
<g transform="translate(423.2,1135.9) scale(1.095)">
<polygon points="-42.05,7.5 42.05,7.5 56.15,93.3 -56.15,93.3" fill="#2b2b2a"/>
<polygon points="-38.65,11.3 38.65,11.3 51.05,89.0 -51.05,89.0" fill="#ffffff"/>
<path fill-rule="evenodd" d="M-14.77,11.3 A18.6,18.6 0 1 1 14.77,11.3 Z M-7.2,0 a7.2,7.2 0 1 0 14.4,0 a7.2,7.2 0 1 0 -14.4,0 Z" fill="#2b2b2a"/>
<path fill="#ffffff" fill-rule="evenodd" d="M-13.9,0 a13.9,13.9 0 1 0 27.8,0 a13.9,13.9 0 1 0 -27.8,0 Z M-11.5,0 a11.5,11.5 0 1 0 23,0 a11.5,11.5 0 1 0 -23,0 Z"/>
<circle cx="0" cy="0" r="9.35" fill="none" stroke="#2b2b2a" stroke-width="4.3"/>
<text x="0.0" y="40.8" font-family="Liberation Sans, sans-serif" font-size="18.3" font-weight="normal" text-anchor="middle" fill="#000" textLength="44.0" lengthAdjust="spacingAndGlyphs" >10 kg</text>
<line x1="-21.3" y1="49.9" x2="21.8" y2="49.9" stroke="#333" stroke-width="1.1"/>
<text x="0.0" y="72.2" font-family="Liberation Sans, sans-serif" font-size="18.3" font-weight="normal" text-anchor="middle" fill="#000" textLength="40.0" lengthAdjust="spacingAndGlyphs" >22 lb</text>
</g>
<g transform="translate(423.2,1302.8) scale(1.095)">
<polygon points="-42.05,7.5 42.05,7.5 56.15,93.3 -56.15,93.3" fill="#2b2b2a"/>
<polygon points="-38.65,11.3 38.65,11.3 51.05,89.0 -51.05,89.0" fill="#ffffff"/>
<path fill-rule="evenodd" d="M-14.77,11.3 A18.6,18.6 0 1 1 14.77,11.3 Z M-7.2,0 a7.2,7.2 0 1 0 14.4,0 a7.2,7.2 0 1 0 -14.4,0 Z" fill="#2b2b2a"/>
<path fill="#ffffff" fill-rule="evenodd" d="M-13.9,0 a13.9,13.9 0 1 0 27.8,0 a13.9,13.9 0 1 0 -27.8,0 Z M-11.5,0 a11.5,11.5 0 1 0 23,0 a11.5,11.5 0 1 0 -23,0 Z"/>
<circle cx="0" cy="0" r="9.35" fill="none" stroke="#2b2b2a" stroke-width="4.3"/>
<text x="0.0" y="40.8" font-family="Liberation Sans, sans-serif" font-size="18.3" font-weight="normal" text-anchor="middle" fill="#000" textLength="44.0" lengthAdjust="spacingAndGlyphs" >10 kg</text>
<line x1="-21.3" y1="49.9" x2="21.8" y2="49.9" stroke="#333" stroke-width="1.1"/>
<text x="0.0" y="72.2" font-family="Liberation Sans, sans-serif" font-size="18.3" font-weight="normal" text-anchor="middle" fill="#000" textLength="40.0" lengthAdjust="spacingAndGlyphs" >22 lb</text>
</g>
<g transform="translate(423.2,1472.6) scale(1.095)">
<polygon points="-42.05,7.5 42.05,7.5 56.15,93.3 -56.15,93.3" fill="#2b2b2a"/>
<polygon points="-38.65,11.3 38.65,11.3 51.05,89.0 -51.05,89.0" fill="#ffffff"/>
<path fill-rule="evenodd" d="M-14.77,11.3 A18.6,18.6 0 1 1 14.77,11.3 Z M-7.2,0 a7.2,7.2 0 1 0 14.4,0 a7.2,7.2 0 1 0 -14.4,0 Z" fill="#2b2b2a"/>
<path fill="#ffffff" fill-rule="evenodd" d="M-13.9,0 a13.9,13.9 0 1 0 27.8,0 a13.9,13.9 0 1 0 -27.8,0 Z M-11.5,0 a11.5,11.5 0 1 0 23,0 a11.5,11.5 0 1 0 -23,0 Z"/>
<circle cx="0" cy="0" r="9.35" fill="none" stroke="#2b2b2a" stroke-width="4.3"/>
<text x="0.0" y="40.8" font-family="Liberation Sans, sans-serif" font-size="18.3" font-weight="normal" text-anchor="middle" fill="#000" textLength="44.0" lengthAdjust="spacingAndGlyphs" >10 kg</text>
<line x1="-21.3" y1="49.9" x2="21.8" y2="49.9" stroke="#333" stroke-width="1.1"/>
<text x="0.0" y="72.2" font-family="Liberation Sans, sans-serif" font-size="18.3" font-weight="normal" text-anchor="middle" fill="#000" textLength="40.0" lengthAdjust="spacingAndGlyphs" >22 lb</text>
</g></g>
<g id="logo"><rect x="1587.02" y="1823.54" width="10.62" height="37.27" fill="#2b2b2a"/>
<rect x="1608.82" y="1823.54" width="10.62" height="37.27" fill="#2b2b2a"/>
<rect x="1630.43" y="1823.54" width="10.62" height="37.27" fill="#2b2b2a"/>
<line x1="1598.20" y1="1860.43" x2="1608.82" y2="1823.91" stroke="#2b2b2a" stroke-width="1.5"/>
<line x1="1619.63" y1="1860.43" x2="1630.43" y2="1823.91" stroke="#2b2b2a" stroke-width="1.5"/>
<rect x="1651.30" y="1823.54" width="10.62" height="37.27" fill="#2b2b2a"/>
<rect x="1651.30" y="1803.04" width="10.62" height="9.32" fill="#2b2b2a"/>
<rect x="1673.10" y="1803.04" width="10.25" height="57.76" fill="#2b2b2a"/>
<rect x="1694.16" y="1823.54" width="10.81" height="37.27" fill="#2b2b2a"/>
<rect x="1694.16" y="1803.04" width="10.81" height="9.32" fill="#2b2b2a"/>
<rect x="1716.15" y="1823.54" width="10.62" height="37.27" fill="#2b2b2a"/>
<rect x="1737.58" y="1823.54" width="10.62" height="37.27" fill="#2b2b2a"/>
<rect x="1759.00" y="1823.54" width="10.62" height="37.27" fill="#2b2b2a"/>
<line x1="1726.77" y1="1860.43" x2="1737.58" y2="1823.91" stroke="#2b2b2a" stroke-width="1.5"/>
<line x1="1748.20" y1="1860.43" x2="1759.00" y2="1823.91" stroke="#2b2b2a" stroke-width="1.5"/>
<rect x="1780.43" y="1823.54" width="10.62" height="37.27" fill="#2b2b2a"/>
<polygon points="1791.1,1823.5 1800.7,1823.5 1799.1,1831.4 1791.1,1831.4" fill="#2b2b2a"/>
<polygon points="1791.1,1853.4 1798.1,1853.4 1798.1,1860.8 1791.1,1860.8" fill="#2b2b2a"/>
<line x1="1799.25" y1="1831.37" x2="1791.24" y2="1853.35" stroke="#2b2b2a" stroke-width="1.5"/>
<rect x="1808.76" y="1803.04" width="10.25" height="57.76" fill="#2b2b2a"/>
<rect x="1802.23" y="1811.99" width="22.36" height="1.68" fill="#2b2b2a"/>
<rect x="1829.81" y="1823.54" width="10.25" height="37.27" fill="#2b2b2a"/>
<polygon points="1840.1,1823.5 1847.9,1823.5 1846.0,1830.1 1840.1,1830.1" fill="#2b2b2a"/>
<rect x="1851.24" y="1823.54" width="10.62" height="37.27" fill="#2b2b2a"/>
<rect x="1872.67" y="1823.54" width="10.62" height="53.11" fill="#2b2b2a"/>
<line x1="1861.86" y1="1860.43" x2="1872.67" y2="1823.91" stroke="#2b2b2a" stroke-width="1.5"/></g>
</svg></body></html>
